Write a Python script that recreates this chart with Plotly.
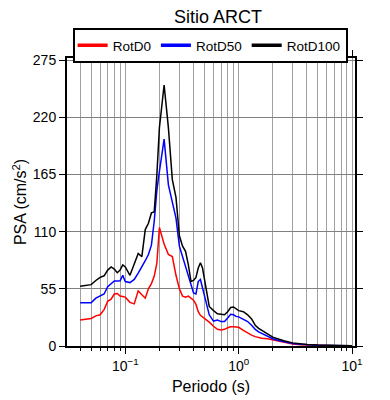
import plotly.graph_objects as go

periods = [0.04, 0.045, 0.05, 0.055, 0.06, 0.065, 0.07, 0.075, 0.08, 0.085, 0.09, 0.095,
           0.1, 0.11, 0.12, 0.13, 0.14, 0.15, 0.16, 0.17, 0.18, 0.19, 0.2, 0.22, 0.24,
           0.26, 0.28, 0.3, 0.32, 0.34, 0.36, 0.38, 0.4, 0.42, 0.44, 0.46, 0.48, 0.5,
           0.55, 0.6, 0.65, 0.7, 0.75, 0.8, 0.85, 0.9, 0.95, 1.0, 1.1, 1.2, 1.3, 1.4,
           1.5, 1.6, 1.8, 2.0, 2.2, 2.5, 3.0, 3.5, 4.0, 5.0, 6.0, 7.0, 8.0, 10.0]

rotd100 = [57.5, 58.5, 59, 63, 66, 67.5, 73, 76, 74, 70.5, 73, 78,
           76, 68, 80, 89, 86, 112, 118, 128, 129, 165, 210, 251, 210,
           160, 143, 106, 96, 91, 78, 62, 63, 66, 75, 80, 75, 65,
           38, 34, 31, 30.5, 30, 33, 37, 37.5, 36, 34, 33, 30, 26, 20,
           17, 15, 11, 8.5, 7, 5, 3, 2, 1.5, 1, 0.7, 0.5, 0.4, 0.3]

rotd50 = [41.5, 41.5, 41.5, 46, 48, 50, 57, 60, 62.5, 62.5, 62.8, 68,
          62, 61, 64, 70, 77, 82, 88, 97, 120, 150, 168, 199, 155,
          138, 123, 96, 86, 76, 66, 57, 51, 50, 62, 64, 56, 49,
          30, 24, 25, 23.5, 23.5, 27, 30.5, 30, 28.5, 28, 26, 23.5, 20, 16,
          13.5, 12, 9, 7, 5.5, 4, 2.5, 1.7, 1.2, 0.8, 0.6, 0.4, 0.3, 0.2]

rotd0 = [25, 25.5, 26.5, 29, 30, 35, 43, 45, 50, 50.5, 48, 47.5,
         47, 42, 40.5, 53, 49, 46, 55, 60, 67, 80, 114, 98, 88,
         86, 68, 55, 48, 47, 48, 46, 44, 40, 33, 29.5, 28, 27,
         23, 19, 16, 15.5, 16, 17.5, 18.5, 18.5, 18.5, 18, 15, 12.5, 10.5, 9,
         8, 7.5, 7, 6, 5, 3.5, 2, 1.3, 0.9, 0.6, 0.4, 0.3, 0.25, 0.2]

series = [("RotD0", rotd0, "#ff0000"), ("RotD50", rotd50, "#0000ff"), ("RotD100", rotd100, "#000000")]

yticks = [0, 55, 110, 165, 220, 275]
xtickvals = [0.1, 1, 10]
xticktext = ["10<sup>\u22121</sup>", "10<sup>0</sup>", "10<sup>1</sup>"]

fig = go.Figure()
for name, vals, col in series:
    fig.add_trace(go.Scatter(x=periods, y=vals, mode="lines", name=name,
                             legendgroup=name, showlegend=False,
                             line=dict(color=col, width=1.5)))
# legend entries with the thicker key line seen in the reference
for name, vals, col in series:
    fig.add_trace(go.Scatter(x=[None], y=[None], mode="lines", name=name,
                             legendgroup=name, showlegend=True,
                             line=dict(color=col, width=3.5)))

# page body has an 8px margin, so the figure is drawn 8px in from the top-left
fig.update_layout(
    width=382, height=392,
    margin=dict(l=59, r=35, t=50, b=54, autoexpand=False),
    paper_bgcolor="white", plot_bgcolor="white",
    font=dict(family="Liberation Sans, Arial, sans-serif", size=14, color="black"),
    title=dict(text="Sitio ARCT", x=0.55, xanchor="center", y=0.978, yanchor="middle",
               font=dict(size=18)),
    showlegend=True,
    legend=dict(orientation="h", x=0.497, xanchor="center", y=1.104, yanchor="top",
                bordercolor="black", borderwidth=2, bgcolor="white",
                font=dict(size=13.5), itemwidth=30, tracegroupgap=0),
)
fig.update_xaxes(type="log", range=[-1.514, 1.026],
                 tickvals=xtickvals, ticktext=xticktext,
                 ticks="outside", ticklen=6, tickwidth=1, tickcolor="black",
                 showline=True, linewidth=2, linecolor="black", mirror="allticks",
                 showgrid=True, gridcolor="#a0a0a0", gridwidth=1,
                 minor=dict(dtick="D1", showgrid=True, gridcolor="#a0a0a0", gridwidth=1,
                            ticks="outside", ticklen=3, tickcolor="black"),
                 title=dict(text="Periodo (s)", font=dict(size=16), standoff=8),
                 automargin=False, zeroline=False)
fig.update_yaxes(range=[0, 277], tickvals=yticks,
                 ticks="outside", ticklen=6, tickwidth=1, tickcolor="black",
                 showline=True, linewidth=2, linecolor="black", mirror="allticks",
                 showgrid=True, gridcolor="#808080", gridwidth=1,
                 title=dict(text="PSA (cm/s<sup>2</sup>)", font=dict(size=16), standoff=2),
                 automargin=False, zeroline=False)

fig.write_html("out.html")
